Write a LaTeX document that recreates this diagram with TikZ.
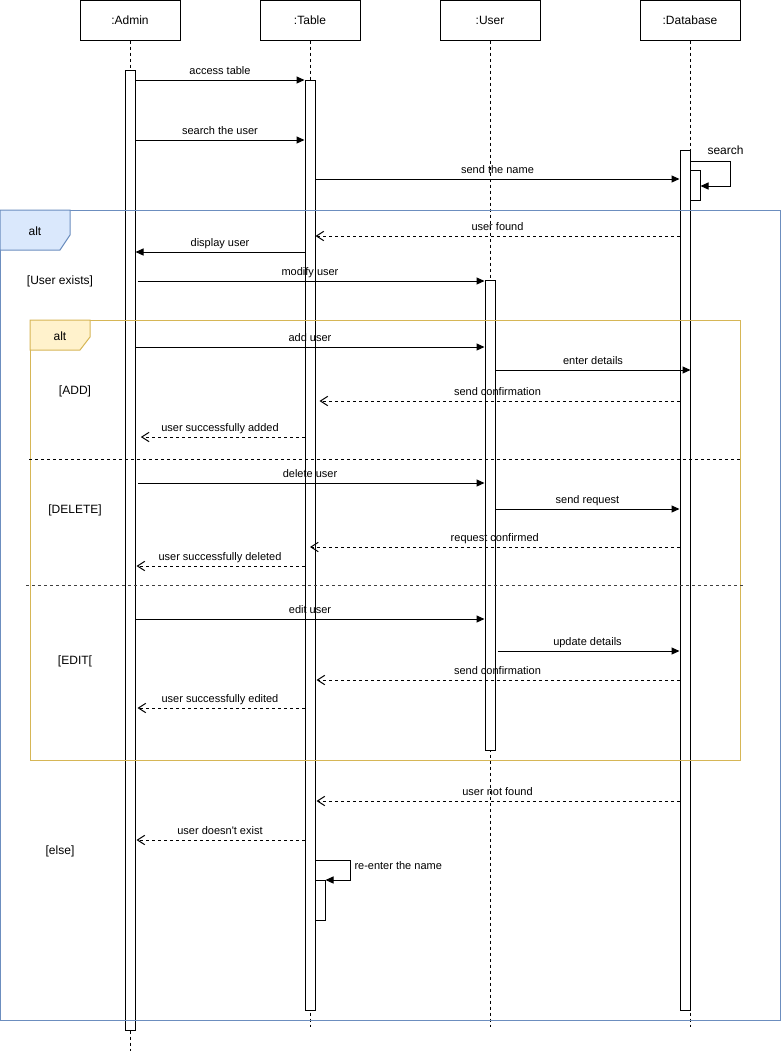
\documentclass[tikz,border=0pt]{standalone}
\usepackage{fontspec}
\setmainfont{Liberation Sans}
\usetikzlibrary{arrows.meta,fit}

\definecolor{altblueline}{HTML}{6C8EBF}
\definecolor{altbluefill}{HTML}{DAE8FC}
\definecolor{altyellowline}{HTML}{D6B656}
\definecolor{altyellowfill}{HTML}{FFF2CC}

\begin{document}
\begin{tikzpicture}[x=0.75pt,y=-0.75pt,line width=0.75pt,
  head/.style={draw,fill=white,minimum width=75pt,minimum height=30pt,inner sep=0pt,
    font=\fontsize{9pt}{11pt}\selectfont},
  lifeline/.style={dash pattern=on 2.25pt off 2.25pt},
  bar/.style={draw,fill=white,inner sep=0pt},
  msg/.style={-{Triangle[length=6pt,width=5.25pt]}},
  ret/.style={dash pattern=on 2.25pt off 2.25pt,-{Straight Barb[length=5.5pt,width=7pt]}},
  lbl/.style={midway,anchor=base,yshift=3.9pt,inner sep=0pt,
    font=\fontsize{8.25pt}{10pt}\selectfont},
  guard/.style={inner sep=0pt,font=\fontsize{9pt}{11pt}\selectfont},
  sep/.style={dash pattern=on 2.25pt off 2.25pt}
]
\useasboundingbox (0,0) rectangle (782,1051);

% participants
\node[head] (hA) at (130,20) {:Admin};
\node[head] (hT) at (310,20) {:Table};
\node[head] (hU) at (490,20) {:User};
\node[head] (hD) at (690,20) {:Database};

% lifelines
\draw[lifeline] (hA.south) -- (hA.south |- 0,1051);
\draw[lifeline] (hT.south) -- (hT.south |- 0,1027);
\draw[lifeline] (hU.south) -- (hU.south |- 0,1027);
\draw[lifeline] (hD.south) -- (hD.south |- 0,1027);

% activation bars
\node[bar,fit={(125,70)(135,1030)}] (bA) {};
\node[bar,fit={(305,80)(315,1010)}] (bT) {};
\node[bar,fit={(485,280)(495,750)}] (bU) {};
\node[bar,fit={(680,150)(690,1010)}] (bD) {};
\node[bar,fit={(690,170)(700,200)}] (bD2) {};
\node[bar,fit={(315,880)(325,920)}] (bT2) {};

% outer alt fragment
\draw[altblueline] (0,210) rectangle (780,1020);
\draw[altblueline,fill=altbluefill] (0,210) -- (70,210) -- (70,235) -- (60,250) -- (0,250) -- cycle;
\node[guard] (altA) at (35,231) {alt};

% inner alt fragment
\draw[altyellowline] (30,320) rectangle (740,760);
\draw[altyellowline,fill=altyellowfill] (30,320) -- (90,320) -- (90,337) -- (80,350) -- (30,350) -- cycle;
\node[guard] (altB) at (60,336) {alt};
\draw[sep] (29,459) -- (740,459);
\draw[sep,black!75] (26,585) -- (743,585);

% guards
\node[guard] (g1) at (60,281) {[User exists]};
\node[guard] (g2) at (75,391) {[ADD]};
\node[guard] (g3) at (75,510) {[DELETE]};
\node[guard] (g4) at (75,661) {[EDIT[};
\node[guard] (g5) at (60,851) {[else]};

% messages
\draw[msg] (bA.east |- 0,80) -- node[lbl] (m1) {access table} (bT.west |- 0,80);
\draw[msg] (bA.east |- 0,140) -- node[lbl] (m2) {search the user} (bT.west |- 0,140);
\draw[msg] (bT.east |- 0,179) -- node[lbl] (m3) {send the name} (bD.west |- 0,179);

% database self call
\coordinate (s1) at (730,161);
\coordinate (s2) at (730,186);
\draw[msg] (bD.east |- s1) -- (s1) -- (s2) -- (bD2.east |- s2);
\node[guard,anchor=west] (m4) at (707,150) {search};

\draw[ret] (bD.west |- 0,236) -- node[lbl] (m5) {user found} (bT.east |- 0,236);
\draw[msg] (bT.west |- 0,252) -- node[lbl] (m6) {display user} (bA.east |- 0,252);
\draw[msg,shorten <=1.5pt] (bA.east |- 0,281) -- node[lbl] (m7) {modify user} (bU.west |- 0,281);

% ADD
\draw[msg] (bA.east |- 0,347) -- node[lbl] (m8) {add user} (bU.west |- 0,347);
\draw[msg] (bU.east |- 0,370) -- node[lbl] (m9) {enter details} (bD.east |- 0,370);
\draw[ret,shorten >=3pt] (bD.west |- 0,401) -- node[lbl] (m10) {send confirmation} (bT.east |- 0,401);
\draw[ret,shorten >=4pt] (bT.west |- 0,437) -- node[lbl] (m11) {user successfully added} (bA.east |- 0,437);

% DELETE
\draw[msg,shorten <=2pt] (bA.east |- 0,483) -- node[lbl] (m12) {delete user} (bU.west |- 0,483);
\draw[msg] (bU.east |- 0,509) -- node[lbl] (m13) {send request} (bD.west |- 0,509);
\draw[ret] (bD.west |- 0,547) -- node[lbl] (m14) {request confirmed} (bT.center |- 0,547);
\draw[ret,shorten >=0.75pt] (bT.west |- 0,566) -- node[lbl] (m15) {user successfully deleted} (bA.east |- 0,566);

% EDIT
\draw[msg] (bA.east |- 0,619) -- node[lbl] (m16) {edit user} (bU.west |- 0,619);
\draw[msg,shorten <=1.5pt] (bU.east |- 0,651) -- node[lbl] (m17) {update details} (bD.west |- 0,651);
\draw[ret,shorten >=0.75pt] (bD.west |- 0,680) -- node[lbl] (m18) {send confirmation} (bT.east |- 0,680);
\draw[ret,shorten >=1.5pt] (bT.west |- 0,708) -- node[lbl] (m19) {user successfully edited} (bA.east |- 0,708);

% else
\draw[ret,shorten >=0.75pt] (bD.west |- 0,801) -- node[lbl] (m20) {user not found} (bT.east |- 0,801);
\draw[ret,shorten >=0.75pt] (bT.west |- 0,840) -- node[lbl] (m21) {user doesn\textquotesingle t exist} (bA.east |- 0,840);

% table self call
\coordinate (r1) at (350,860);
\coordinate (r2) at (350,880);
\draw[msg] (bT.east |- r1) -- (r1) -- (r2) -- (bT2.east |- r2);
\node[anchor=west,inner sep=0pt,font=\fontsize{8.25pt}{10pt}\selectfont] (m22) at (354,866) {re-enter the name};
\end{tikzpicture}
\end{document}
